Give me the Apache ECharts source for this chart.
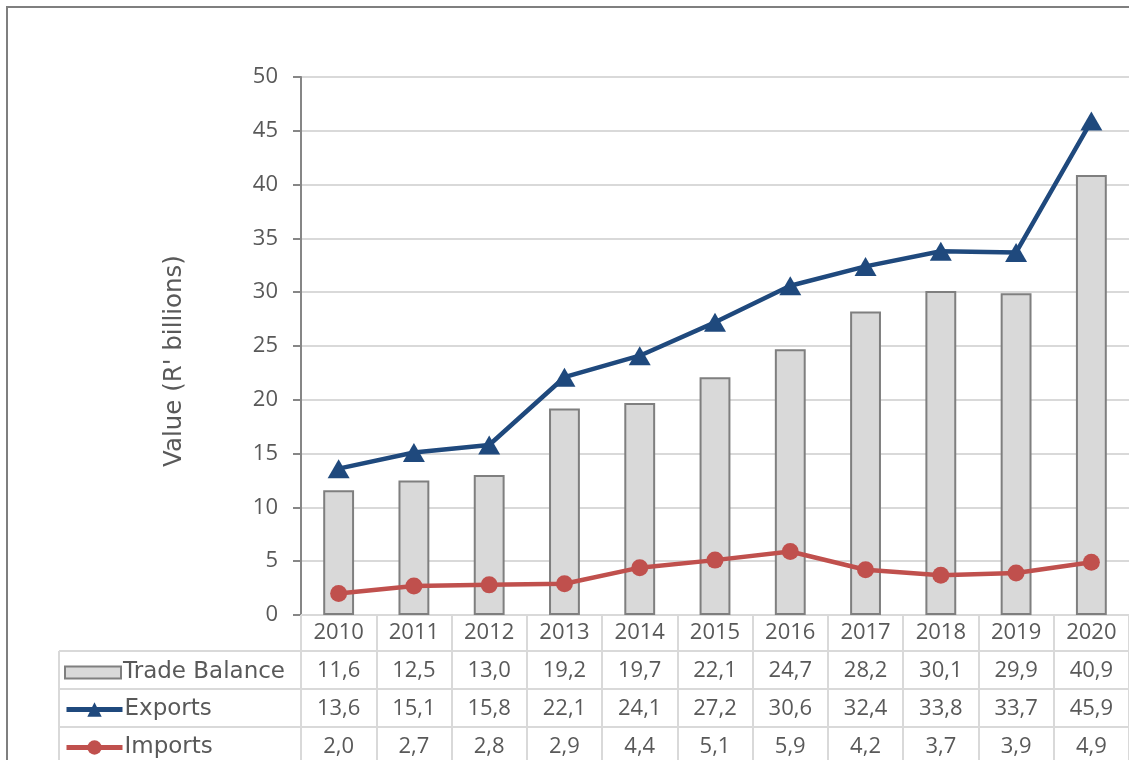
<!DOCTYPE html>
<html>
<head>
<meta charset="utf-8">
<script src="https://cdn.jsdelivr.net/npm/echarts@6/dist/echarts.min.js"></script>
<style>
html,body{margin:0;padding:0;background:#fff;}
#chart{width:1129px;height:760px;}
</style>
</head>
<body>
<div id="chart"></div>
<script>
const years = ['2010','2011','2012','2013','2014','2015','2016','2017','2018','2019','2020'];
const tradeBalance = [11.6,12.5,13.0,19.2,19.7,22.1,24.7,28.2,30.1,29.9,40.9];
const exportsVals = [13.6,15.1,15.8,22.1,24.1,27.2,30.6,32.4,33.8,33.7,45.9];
const importsVals = [2.0,2.7,2.8,2.9,4.4,5.1,5.9,4.2,3.7,3.9,4.9];
const seriesNames = ['Trade Balance', 'Exports', 'Imports'];
const yTitle = "Value (R' billions)";
const yTicks = [0,5,10,15,20,25,30,35,40,45,50];

const NUMFONT = '"Open Sans", sans-serif';
const WORDFONT = '"DejaVu Sans", sans-serif';
const TXT = '#595959';
const BLUE = '#1f497d', RED = '#c0504d';
const GRID_L = 301, GRID_T = 77, GRID_B = 615, GRID_W = 844;
const ROW_H = 38;
const NUM_SIZE = 22;

const fmt = v => v.toFixed(1).replace('.', ',');

function tableAxis(values, offset) {
  return {
    type: 'category', data: years, gridIndex: 0, position: 'bottom', offset: offset,
    axisLine: {show: false}, axisTick: {show: false}, splitLine: {show: false},
    axisLabel: {
      color: TXT, fontFamily: NUMFONT, fontSize: NUM_SIZE, lineHeight: 22, margin: 7,
      formatter: (v, i) => fmt(values[i])
    }
  };
}

function rowLegend(item, row, itemHeight, shift) {
  const center = GRID_B + ROW_H * row + ROW_H / 2 - 2 + shift;
  return {
    orient: 'horizontal', left: 64, top: center - itemHeight / 2 - 1,
    itemWidth: 56, itemHeight: itemHeight, padding: 0, itemGap: 0,
    textStyle: {color: TXT, fontFamily: WORDFONT, fontSize: 23, padding: [0, 0, 0, -3]},
    data: [item],
    selectedMode: false
  };
}

const chart = echarts.init(document.getElementById('chart'), null, {renderer: 'canvas'});
const option = {
  backgroundColor: '#fff',
  animation: false,
  textStyle: {fontFamily: NUMFONT},
  grid: {left: GRID_L, top: GRID_T, width: GRID_W, height: GRID_B - GRID_T, containLabel: false},
  legend: [
    rowLegend({name: seriesNames[0], icon: 'rect', itemStyle: {color: '#d9d9d9', borderColor: '#7f7f7f', borderWidth: 2}}, 1, 12, -2),
    rowLegend({name: seriesNames[1], lineStyle: {color: BLUE, width: 5}, itemStyle: {color: BLUE}}, 2, 18, 0),
    rowLegend({name: seriesNames[2], lineStyle: {color: RED, width: 5}, itemStyle: {color: RED}}, 3, 18, 0)
  ],
  xAxis: [
    {
      type: 'category', data: years, gridIndex: 0, position: 'bottom',
      axisLine: {show: true, lineStyle: {color: '#d9d9d9', width: 2}},
      axisTick: {show: true, alignWithLabel: false, length: 760 - GRID_B, lineStyle: {color: '#d9d9d9', width: 2}},
      axisLabel: {color: TXT, fontFamily: NUMFONT, fontSize: NUM_SIZE, lineHeight: 22, margin: 7},
      splitLine: {show: false}
    },
    tableAxis(tradeBalance, ROW_H),
    tableAxis(exportsVals, ROW_H * 2),
    tableAxis(importsVals, ROW_H * 3)
  ],
  yAxis: {
    type: 'value', min: yTicks[0], max: yTicks[yTicks.length - 1], interval: 5,
    axisLine: {show: true, lineStyle: {color: '#868686', width: 2}},
    axisTick: {show: true, length: 8, lineStyle: {color: '#868686', width: 2}},
    axisLabel: {color: TXT, fontFamily: NUMFONT, fontSize: NUM_SIZE, margin: 23},
    splitLine: {show: true, lineStyle: {color: '#d9d9d9', width: 2}}
  },
  series: [
    {
      name: seriesNames[0], type: 'bar', data: tradeBalance, barWidth: '41%',
      itemStyle: {color: '#d9d9d9', borderColor: '#7f7f7f', borderWidth: 2}
    },
    {
      name: seriesNames[1], type: 'line', data: exportsVals,
      symbol: 'triangle', symbolSize: [22, 19], showAllSymbol: true,
      lineStyle: {color: BLUE, width: 4.5},
      itemStyle: {color: BLUE}
    },
    {
      name: seriesNames[2], type: 'line', data: importsVals,
      symbol: 'circle', symbolSize: 17, showAllSymbol: true,
      lineStyle: {color: RED, width: 4.5},
      itemStyle: {color: RED}
    }
  ],
  graphic: [
    {type: 'rect', shape: {x: 7, y: 7, width: 1160, height: 800}, style: {fill: 'none', stroke: '#7f7f7f', lineWidth: 2}, silent: true},
    {type: 'line', shape: {x1: 59, y1: GRID_B + ROW_H - 2, x2: 1140, y2: GRID_B + ROW_H - 2}, style: {stroke: '#d9d9d9', lineWidth: 2}, silent: true},
    {type: 'line', shape: {x1: 59, y1: GRID_B + ROW_H * 2 - 2, x2: 1140, y2: GRID_B + ROW_H * 2 - 2}, style: {stroke: '#d9d9d9', lineWidth: 2}, silent: true},
    {type: 'line', shape: {x1: 59, y1: GRID_B + ROW_H * 3 - 2, x2: 1140, y2: GRID_B + ROW_H * 3 - 2}, style: {stroke: '#d9d9d9', lineWidth: 2}, silent: true},
    {type: 'line', shape: {x1: 59, y1: GRID_B + ROW_H - 2, x2: 59, y2: 770}, style: {stroke: '#d9d9d9', lineWidth: 2}, silent: true},
    {
      type: 'text', x: 175, y: 361, rotation: Math.PI / 2, silent: true,
      style: {text: yTitle, fill: TXT, font: '24.5px "DejaVu Sans", sans-serif', align: 'center', verticalAlign: 'middle'}
    }
  ]
};
chart.setOption(option);
</script>
</body>
</html>
